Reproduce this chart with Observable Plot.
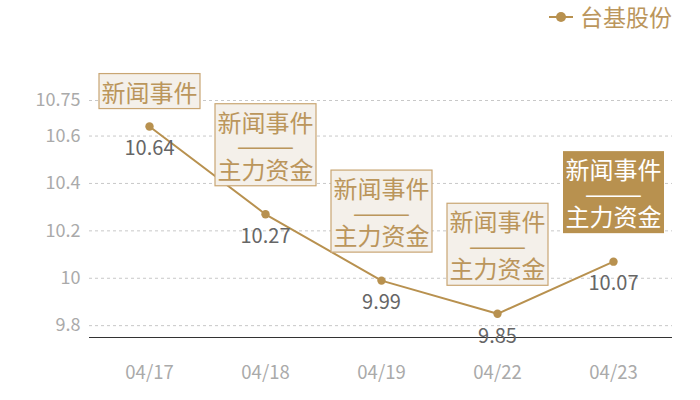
<!DOCTYPE html>
<html>
<head>
<meta charset="utf-8">
<script src="https://cdn.jsdelivr.net/npm/d3@7"></script>
<script src="https://cdn.jsdelivr.net/npm/@observablehq/plot@0.6"></script>
<style>
  html, body { margin: 0; padding: 0; background: #fff; }
  body { width: 700px; height: 400px; overflow: hidden; font-family: "Noto Sans CJK SC", sans-serif; }
  #legend { position: relative; height: 40px; width: 700px; }
  #legend svg { position: absolute; left: 546px; top: 9px; }
  #legend span { position: absolute; left: 580px; top: 1px; font-size: 23px; line-height: 30px; color: #bb965c; white-space: nowrap; }
  #chart svg { display: block; }
</style>
</head>
<body>
<div id="legend"></div>
<div id="chart"></div>
<script>
const dates = ["04/17", "04/18", "04/19", "04/22", "04/23"];
const prices = [10.64, 10.27, 9.99, 9.85, 10.07];
const notes = ["新闻事件", "新闻事件\n——\n主力资金", "新闻事件\n——\n主力资金", "新闻事件\n——\n主力资金", "新闻事件\n——\n主力资金"];
const highlighted = [false, false, false, false, true];
const yTicks = [9.8, 10, 10.2, 10.4, 10.6, 10.75];
const yDomain = [9.75, 10.75];
const seriesName = "台基股份";

const gold = "#b8914f";
const data = dates.map((d, i) => ({date: d, price: prices[i], note: notes[i], hi: highlighted[i]}));

// legend
const legend = document.getElementById("legend");
legend.innerHTML =
  `<svg width="30" height="16"><line x1="3" x2="27" y1="8" y2="8" stroke="${gold}" stroke-width="2"/><circle cx="15" cy="8" r="5" fill="${gold}"/></svg><span>${seriesName}</span>`;

const chart = Plot.plot({
  width: 700,
  height: 360,
  marginLeft: 89,
  marginRight: 28,
  marginTop: 60,
  marginBottom: 63,
  style: {fontFamily: '"Noto Sans CJK SC", sans-serif', background: "transparent", overflow: "visible"},
  x: {type: "point", domain: dates, padding: 0.5, label: null},
  y: {domain: yDomain, label: null},
  marks: [
    Plot.gridY(yTicks, {stroke: "#c8c8c8", strokeOpacity: 1, strokeDasharray: "3,3"}),
    Plot.axisY(yTicks, {tickSize: 0, tickPadding: 9, fontSize: 18, fill: "#aaaaaa", tickFormat: d => String(d), label: null}),
    Plot.axisX({tickSize: 0, tickPadding: 28, fontSize: 18.5, fill: "#aaaaaa", label: null}),
    Plot.ruleY([yDomain[0]], {stroke: "#333", strokeWidth: 1.2}),
    Plot.line(data, {x: "date", y: "price", stroke: gold, strokeWidth: 2}),
    Plot.dot(data, {x: "date", y: "price", r: 4.2, fill: gold}),
    Plot.text(data, {x: "date", y: "price", text: d => d.price.toFixed(2), lineAnchor: "top", dy: 14.5, fontSize: 20, fill: "#666666"}),
    Plot.text(data, {filter: d => !d.note.includes("\n"), x: "date", y: "price", text: "note", lineAnchor: "bottom", dy: -25, fontSize: 24, lineHeight: 0.98, fill: d => d.hi ? "#ffffff" : "#bb965c", className: "ann"}),
    Plot.text(data, {filter: d => d.note.includes("\n"), x: "date", y: "price", text: "note", lineAnchor: "bottom", dy: -35.5, fontSize: 24, lineHeight: 0.98, fill: d => d.hi ? "#ffffff" : "#bb965c", className: "ann"})
  ]
});
document.getElementById("chart").appendChild(chart);

// draw a box behind each annotation text; widen the dash line
chart.querySelectorAll("g.ann").forEach(g => {
  const texts = Array.from(g.querySelectorAll("text"));
  texts.forEach(t => {
    const fillColor = t.getAttribute("fill");
    const isHi = fillColor && fillColor.toLowerCase() === "#ffffff";
    const b = t.getBBox();
    t.querySelectorAll("tspan").forEach(ts => {
      if (/^[—]+$/.test(ts.textContent)) {
        const w = 58;
        ts.setAttribute("x", -w / 2);
        ts.style.textAnchor = "start";
        ts.setAttribute("textLength", w);
        ts.setAttribute("lengthAdjust", "spacingAndGlyphs");
      }
    });
    const r = document.createElementNS("http://www.w3.org/2000/svg", "rect");
    r.setAttribute("x", b.x - 2.5);
    r.setAttribute("y", b.y);
    r.setAttribute("width", b.width + 5);
    r.setAttribute("height", b.height);
    r.setAttribute("transform", t.getAttribute("transform") || "");
    r.setAttribute("fill", isHi ? gold : "#f4f0ea");
    r.setAttribute("stroke", isHi ? "none" : "#c9a673");
    r.setAttribute("stroke-width", 1.2);
    g.insertBefore(r, t);
  });
});
</script>
</body>
</html>
